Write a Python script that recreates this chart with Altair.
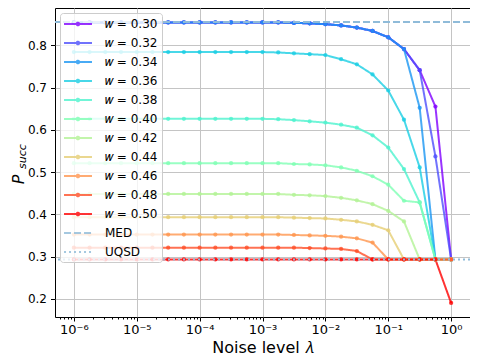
import altair as alt
import pandas as pd

lam = [1.0e-6, 1.778e-6, 3.162e-6, 5.623e-6,
       1.0e-5, 1.778e-5, 3.162e-5, 5.623e-5,
       1.0e-4, 1.778e-4, 3.162e-4, 5.623e-4,
       1.0e-3, 1.778e-3, 3.162e-3, 5.623e-3,
       1.0e-2, 1.778e-2, 3.162e-2, 5.623e-2,
       1.0e-1, 1.778e-1, 3.162e-1, 5.623e-1, 1.0]

series = ["𝑤 = 0.30", "𝑤 = 0.32", "𝑤 = 0.34", "𝑤 = 0.36", "𝑤 = 0.38", "𝑤 = 0.40",
          "𝑤 = 0.42", "𝑤 = 0.44", "𝑤 = 0.46", "𝑤 = 0.48", "𝑤 = 0.50"]

p030 = [0.854, 0.854, 0.854, 0.854, 0.854, 0.854, 0.854, 0.854, 0.854, 0.854, 0.854, 0.854, 0.854, 0.854,
        0.853, 0.852, 0.850, 0.847, 0.842, 0.834, 0.819, 0.791, 0.741, 0.655, 0.293]
p032 = [0.854, 0.854, 0.854, 0.854, 0.854, 0.854, 0.854, 0.854, 0.854, 0.854, 0.854, 0.854, 0.854, 0.854,
        0.853, 0.852, 0.850, 0.847, 0.842, 0.834, 0.819, 0.791, 0.741, 0.537, 0.293]
p034 = [0.854, 0.854, 0.854, 0.854, 0.854, 0.854, 0.854, 0.854, 0.854, 0.854, 0.854, 0.854, 0.854, 0.854,
        0.853, 0.852, 0.850, 0.847, 0.842, 0.834, 0.819, 0.791, 0.652, 0.293, 0.293]
p036 = [0.784, 0.784, 0.784, 0.784, 0.784, 0.784, 0.784, 0.784, 0.784, 0.784, 0.784, 0.784, 0.784,
        0.783, 0.781, 0.779, 0.777, 0.767, 0.755, 0.731, 0.693, 0.624, 0.511, 0.293, 0.293]
p038 = [0.626, 0.626, 0.626, 0.626, 0.626, 0.626, 0.626, 0.626, 0.626, 0.626, 0.626, 0.626, 0.626,
        0.625, 0.623, 0.620, 0.617, 0.612, 0.605, 0.587, 0.558, 0.507, 0.428, 0.293, 0.293]
p040 = [0.521, 0.521, 0.521, 0.521, 0.521, 0.521, 0.521, 0.521, 0.521, 0.521, 0.521, 0.521, 0.521, 0.521,
        0.519, 0.518, 0.516, 0.511, 0.503, 0.490, 0.470, 0.432, 0.428, 0.293, 0.293]
p042 = [0.448, 0.448, 0.448, 0.448, 0.448, 0.448, 0.448, 0.448, 0.448, 0.448, 0.448, 0.448, 0.448, 0.448,
        0.446, 0.445, 0.443, 0.439, 0.433, 0.424, 0.408, 0.383, 0.293, 0.293, 0.293]
p044 = [0.393, 0.393, 0.393, 0.393, 0.393, 0.393, 0.393, 0.393, 0.393, 0.393, 0.393, 0.393, 0.393, 0.393,
        0.392, 0.391, 0.390, 0.387, 0.383, 0.375, 0.362, 0.293, 0.293, 0.293, 0.293]
p046 = [0.352, 0.352, 0.352, 0.352, 0.352, 0.352, 0.352, 0.352, 0.352, 0.352, 0.352, 0.352, 0.352, 0.352,
        0.351, 0.350, 0.349, 0.347, 0.343, 0.333, 0.293, 0.293, 0.293, 0.293, 0.293]
p048 = [0.321, 0.321, 0.321, 0.321, 0.321, 0.321, 0.321, 0.321, 0.321, 0.321, 0.321, 0.321, 0.321, 0.321,
        0.321, 0.320, 0.319, 0.318, 0.313, 0.293, 0.293, 0.293, 0.293, 0.293, 0.293]
p050 = [0.293, 0.293, 0.293, 0.293, 0.293, 0.293, 0.293, 0.293, 0.293, 0.293, 0.293, 0.293, 0.293, 0.293,
        0.293, 0.293, 0.293, 0.293, 0.293, 0.293, 0.293, 0.293, 0.293, 0.293, 0.190]

curves = [p030, p032, p034, p036, p038, p040, p042, p044, p046, p048, p050]

colors = ["#8000ff", "#4d4ffc", "#1a96f3", "#1acee3", "#4df3ce", "#80ffb4",
          "#b3f396", "#e6ce74", "#ff964f", "#ff4f28", "#ff0000"]

ref_names = ["MED", "UQSD"]
ref_values = [0.855, 0.293]
ref_color = "#8fbbd9"

major_x = [1e-6, 1e-5, 1e-4, 1e-3, 1e-2, 1e-1, 1.0]
minor_x = [m * d for d in [1e-7, 1e-6, 1e-5, 1e-4, 1e-3, 1e-2, 1e-1] for m in range(2, 10)]
minor_x = [v for v in minor_x if 5.0e-7 < v < 1.99]
y_ticks = [0.2, 0.3, 0.4, 0.5, 0.6, 0.7, 0.8]

rows = []
for name, vals in zip(series, curves):
    for l, v in zip(lam, vals):
        rows.append({"series": name, "lam": l, "p": v})
df = pd.DataFrame(rows)
ref_df = pd.DataFrame({"series": ref_names, "p": ref_values})
empty_df = pd.DataFrame({"series": pd.Series([], dtype=str), "p": pd.Series([], dtype=float)})

domain = series + ref_names
color_scale = alt.Scale(domain=domain, range=colors + [ref_color, ref_color])
dash_scale = alt.Scale(domain=domain, range=[[1, 0]] * len(series) + [[7, 3], [2, 3]])
dot_path = "M-2.33,0L2.33,0M-0.22,0A0.22,0.22,0,1,0,0.22,0A0.22,0.22,0,1,0,-0.22,0"
plain_path = "M-2.33,0L2.33,0"
shape_scale = alt.Scale(domain=domain, range=[dot_path] * len(series) + [plain_path, plain_path])

legend = alt.Legend(
    orient="top-left", offset=5,
    fillColor="rgba(255,255,255,0.8)", strokeColor="#cccccc", cornerRadius=3,
    padding=4, symbolSize=144, symbolStrokeWidth=2, symbolOffset=7,
    labelOffset=20, labelFontSize=12, labelFont="DejaVu Sans", labelColor="black",
    rowPadding=6,
)

major_test = "abs(log(datum.value)/LN10 - round(log(datum.value)/LN10)) < 0.001"
x_label = ("abs(log(datum.value)/LN10 - round(log(datum.value)/LN10)) < 0.001 ? "
           "'10' + (round(log(datum.value)/LN10) < 0 ? '⁻' : '') + "
           "['⁰','¹','²','³','⁴','⁵','⁶','⁷','⁸','⁹'][abs(round(log(datum.value)/LN10))] : ''")

x_enc = alt.X(
    "lam:Q",
    scale=alt.Scale(type="log", domain=[5.012e-7, 1.995], nice=False),
    axis=alt.Axis(
        values=major_x + minor_x, labelExpr=x_label, labelOverlap=False, labelFlush=False,
        tickSize={"condition": {"test": major_test, "value": 4}, "value": 2},
        gridOpacity={"condition": {"test": major_test, "value": 1}, "value": 0},
        labelFontSize=13, labelPadding=2,
        title="Noise level 𝜆", titleFontSize=16, titleBaseline="alphabetic", titleY=35,
    ),
)

y_scale = alt.Scale(domain=[0.1568, 0.8883], nice=False, zero=False)

lines = alt.Chart(df).mark_line(
    strokeWidth=2, opacity=0.8,
    point=alt.OverlayMarkDef(filled=True, size=18, opacity=0.8),
).encode(
    x=x_enc,
    y=alt.Y("p:Q", scale=y_scale, axis=alt.Axis(
        values=y_ticks, format=".1f", labelFontSize=12, tickSize=4.5, labelPadding=4,
        labelFlush=False,
        title="P", titleFontStyle="italic", titleFontSize=16, titleAngle=270,
        titleBaseline="alphabetic", titleX=-32, titleY=171, titleAlign="center")),
    color=alt.Color("series:N", scale=color_scale, title=None, legend=legend),
    strokeDash=alt.StrokeDash("series:N", scale=dash_scale, title=None, legend=legend),
    order=alt.Order("lam:Q"),
)

rules = alt.Chart(ref_df).mark_rule(strokeWidth=2).encode(
    y=alt.Y("p:Q", scale=y_scale, axis=alt.Axis(
        orient="left", labels=False, ticks=False, domain=False, grid=False,
        title="succ", titleFontStyle="italic", titleFontSize=11, titleAngle=270,
        titleBaseline="alphabetic", titleX=-30, titleY=148, titleAlign="center")),
    color=alt.Color("series:N", scale=color_scale, title=None, legend=legend),
    strokeDash=alt.StrokeDash("series:N", scale=dash_scale, title=None, legend=legend),
)

shapes = alt.Chart(empty_df).mark_point(strokeWidth=2).encode(
    y=alt.Y("p:Q", scale=y_scale, axis=None),
    color=alt.Color("series:N", scale=color_scale, title=None, legend=legend),
    shape=alt.Shape("series:N", scale=shape_scale, title=None, legend=legend),
)

chart = alt.layer(lines, rules, shapes).resolve_axis(y="independent").properties(
    width=415, height=309,
    padding={"left": 47, "top": 0, "right": 0, "bottom": 39},
    autosize=alt.AutoSizeParams(type="none"),
).configure_view(stroke="black", strokeWidth=1).configure_axis(
    labelFont="DejaVu Sans", titleFont="DejaVu Sans", labelColor="black", titleColor="black",
    tickColor="black", domain=False, gridColor="#c4c4c4", gridWidth=1,
    titleFontWeight="normal",
)

chart.save("out.html", embed_options={"renderer": "svg", "actions": False})
